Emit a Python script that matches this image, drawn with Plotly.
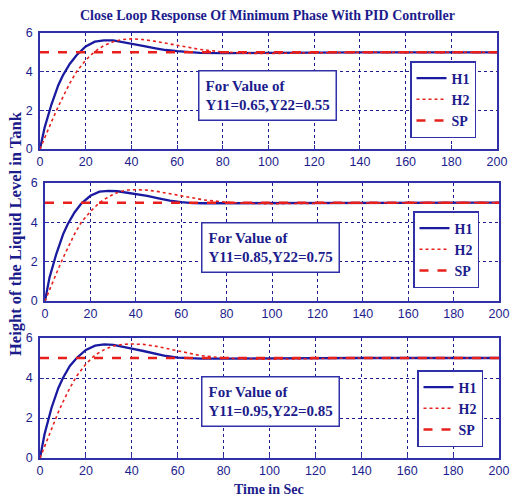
import plotly.graph_objects as go

# ---- data ----
t = [0, 2, 5, 8, 10, 13, 16, 20, 24, 28, 32, 36, 40, 45, 50, 55, 60, 65, 70, 80, 90, 100, 110, 120, 130, 140, 160, 180, 200]

h1_a = [0, 1.1, 2.3, 3.3, 3.8, 4.4, 4.85, 5.3, 5.55, 5.62, 5.62, 5.52, 5.42, 5.33, 5.22, 5.12, 5.06, 5.0, 4.97, 4.96, 4.97, 4.99, 5.0, 5.0, 5.0, 5.0, 5.0, 5.0, 5.0]
h2_a = [0, 0.6, 1.4, 2.2, 2.7, 3.4, 4.0, 4.6, 5.05, 5.35, 5.55, 5.66, 5.7, 5.66, 5.58, 5.48, 5.38, 5.26, 5.15, 5.02, 4.95, 4.94, 4.96, 4.98, 5.0, 5.0, 5.0, 5.0, 5.0]

h1_b = [0, 1.2, 2.4, 3.4, 3.9, 4.5, 4.95, 5.35, 5.56, 5.6, 5.58, 5.52, 5.45, 5.35, 5.22, 5.1, 5.03, 4.98, 4.97, 4.97, 4.98, 4.99, 5.0, 5.0, 5.0, 5.0, 5.0, 5.0, 5.0]
h2_b = [0, 0.6, 1.4, 2.2, 2.7, 3.4, 4.0, 4.55, 5.0, 5.3, 5.52, 5.64, 5.66, 5.64, 5.56, 5.46, 5.36, 5.25, 5.14, 5.02, 4.96, 4.95, 4.96, 4.98, 4.99, 5.0, 5.0, 5.0, 5.0]

h1_c = [0, 1.2, 2.5, 3.5, 4.0, 4.6, 5.0, 5.4, 5.62, 5.68, 5.66, 5.58, 5.47, 5.35, 5.22, 5.1, 5.02, 4.98, 4.97, 4.97, 4.98, 4.99, 5.0, 5.0, 5.0, 5.0, 5.0, 5.0, 5.0]
h2_c = [0, 0.6, 1.5, 2.3, 2.8, 3.5, 4.1, 4.7, 5.15, 5.42, 5.6, 5.68, 5.7, 5.68, 5.6, 5.48, 5.36, 5.24, 5.12, 5.0, 4.95, 4.94, 4.96, 4.98, 4.99, 5.0, 5.0, 5.0, 5.0]

sp_t = [0, 200]
sp_v = [5, 5]

panel_labels = ["For Value of<br>Y11=0.65,Y22=0.55",
                "For Value of<br>Y11=0.85,Y22=0.75",
                "For Value of<br>Y11=0.95,Y22=0.85"]

x_ticks = [0, 20, 40, 60, 80, 100, 120, 140, 160, 180, 200]
y_ticks = [0, 2, 4, 6]

# ---- style ----
NAVY = "#1c1c8c"
FRAME = "#3030a8"
BLUE = "#1a1aa0"
RED = "#e8201c"
SERIF = "Liberation Serif, Times New Roman, serif"
SANS = "Liberation Sans, Arial, sans-serif"

W, H = 511, 499
def px(x): return x / W
def py(y): return (H - y) / H

panels = [
    dict(top=33, bot=149, left=40, right=497, h1=h1_a, h2=h2_a,
         leg=(410, 61), ann=(267, 95.5)),
    dict(top=183, bot=301, left=45, right=499, h1=h1_b, h2=h2_b,
         leg=(413, 211), ann=(270, 247)),
    dict(top=338, bot=458, left=40, right=499, h1=h1_c, h2=h2_c,
         leg=(417, 370), ann=(270, 401)),
]

fig = go.Figure()
annotations = []
for i, p in enumerate(panels):
    n = "" if i == 0 else str(i + 1)
    xa, ya = "x" + n, "y" + n
    lg = "legend" + n
    fig.add_trace(go.Scatter(x=t, y=p["h1"], name="H1", mode="lines", xaxis=xa, yaxis=ya,
                             line=dict(color=BLUE, width=2.3), legend=lg))
    fig.add_trace(go.Scatter(x=t, y=p["h2"], name="H2", mode="lines", xaxis=xa, yaxis=ya,
                             line=dict(color=RED, width=1.6, dash="dot"), legend=lg))
    fig.add_trace(go.Scatter(x=sp_t, y=sp_v, name="SP", mode="lines", xaxis=xa, yaxis=ya,
                             line=dict(color=RED, width=2.5, dash="dash"), legend=lg))
    axis_common = dict(showline=True, linecolor=FRAME, linewidth=1.5, mirror=True,
                       showgrid=True, gridcolor=NAVY, griddash="dot", gridwidth=1,
                       zeroline=False, ticks="inside", ticklen=4, tickcolor=FRAME,
                       automargin=False,
                       tickfont=dict(family=SANS, size=12.5, color=NAVY))
    fig.layout["xaxis" + n] = dict(domain=[px(p["left"]), px(p["right"])], range=[0, 200],
                                   tickvals=x_ticks, anchor=ya, **axis_common)
    fig.layout["yaxis" + n] = dict(domain=[py(p["bot"]), py(p["top"])], range=[0, 6],
                                   tickvals=y_ticks, anchor=xa, ticklabelstandoff=3,
                                   **axis_common)
    fig.layout[lg] = dict(x=px(p["leg"][0]), y=py(p["leg"][1]), xanchor="left", yanchor="top",
                          bgcolor="white", bordercolor=FRAME, borderwidth=1.5,
                          font=dict(family=SERIF, size=14, color=NAVY, weight="bold"),
                          tracegroupgap=0, itemwidth=30)
    annotations.append(dict(x=px(p["ann"][0]), y=py(p["ann"][1]), xref="paper", yref="paper",
                            xanchor="center", yanchor="middle",
                            text=panel_labels[i], showarrow=False, align="left",
                            bgcolor="white", bordercolor=FRAME, borderwidth=1.5, borderpad=6,
                            font=dict(family=SERIF, size=15, color=NAVY, weight="bold")))

annotations.append(dict(x=px(267), y=py(15), xref="paper", yref="paper",
                        xanchor="center", yanchor="middle",
                        text="Close Loop Response Of Minimum Phase With PID Controller",
                        showarrow=False, font=dict(family=SERIF, size=14, color=NAVY, weight="bold")))
annotations.append(dict(x=px(269), y=py(489), xref="paper", yref="paper",
                        xanchor="center", yanchor="middle",
                        text="Time in Sec", showarrow=False,
                        font=dict(family=SERIF, size=14, color=NAVY, weight="bold")))
annotations.append(dict(x=px(15), y=py(234), xref="paper", yref="paper",
                        xanchor="center", yanchor="middle",
                        text="Height of the Liquid Level in Tank", showarrow=False, textangle=-90,
                        font=dict(family=SERIF, size=16.5, color=NAVY, weight="bold")))

fig.update_layout(template="none", width=W, height=H, margin=dict(l=0, r=0, t=0, b=0, autoexpand=False),
                  paper_bgcolor="white", plot_bgcolor="white", annotations=annotations,
                  showlegend=True)
fig.write_html("out.html", config={"displayModeBar": False},
               post_script="document.body.style.margin='0';")
